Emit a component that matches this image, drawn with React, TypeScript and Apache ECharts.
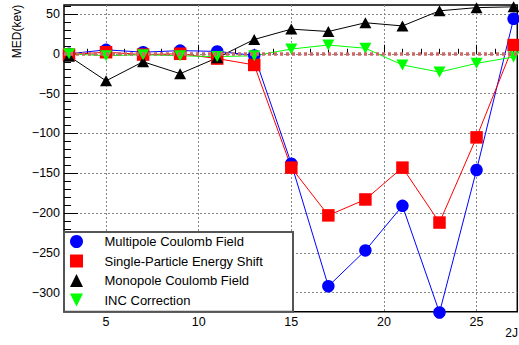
import { useEffect, useRef } from "react";
import * as echarts from "echarts";

const xValues = [3, 5, 7, 9, 11, 13, 15, 17, 19, 21, 23, 25, 27];
const multipole = [0, 5, 2, 4, 3, -2, -138, -292, -247, -191, -325, -146, 44];
const singleParticle = [-1, 2, -1, 0, -6, -14, -143, -203, -183, -143, -212, -105, 11];
const monopole = [-3, -34, -10, -25, -5, 18, 31, 28, 39, 35, 54, 58, 59];
const incCorrection = [0, -2.5, -1.2, -2.5, -3.5, -2.5, 6, 11, 7, -14, -23, -12, -4];

const xMajorTicks = [5, 10, 15, 20, 25];
const xMinorTicks = [3, 4, 5, 6, 7, 8, 9, 10, 11, 12, 13, 14, 15, 16, 17, 18, 19, 20, 21, 22, 23, 24, 25, 26, 27];
const yMajorTicks = [-300, -250, -200, -150, -100, -50, 0, 50];
const yMinorTicks = [-320, -310, -300, -290, -280, -270, -260, -250, -240, -230, -220, -210, -200, -190, -180, -170, -160, -150, -140, -130, -120, -110, -100, -90, -80, -70, -60, -50, -40, -30, -20, -10, 0, 10, 20, 30, 40, 50, 60];

const seriesNames = [
  "Multipole Coulomb Field",
  "Single-Particle Energy Shift",
  "Monopole Coulomb Field",
  "INC Correction",
];
const xTitle = "2J";
const yTitle = "MED(kev)";

const X_MIN = 2.73;
const X_MAX = 27.2;
const Y_MIN = -324;
const Y_MAX = 61.3;

const FONT = "'Liberation Sans', Arial, Helvetica, sans-serif";

const fmt = (v: number) => String(v).replace("-", "\u2212");

export default function App() {
  const ref = useRef<HTMLDivElement>(null);
  useEffect(() => {
    if (!ref.current) return;
    const chart = echarts.init(ref.current, null, { renderer: "svg" });
    const gridRect = { left: 64, top: 5, width: 453.3, height: 306.7 };
    const pairs = (ys: number[]) => xValues.map((x, i) => [x, ys[i]]);
    const mkSeries = (name: string, ys: number[], color: string, symbol: string, size: any, extra: any = {}) => ({
      name,
      type: "line",
      xAxisIndex: 0,
      yAxisIndex: 0,
      data: pairs(ys),
      symbol,
      symbolSize: size,
      clip: false,
      itemStyle: { color },
      lineStyle: { color, width: 1 },
      emphasis: { disabled: true },
      ...extra,
    });
    chart.setOption({
      animation: false,
      backgroundColor: "#fff",
      textStyle: { fontFamily: FONT },
      grid: [
        { ...gridRect, show: true, borderColor: "#000", borderWidth: 1.5, backgroundColor: "transparent" },
        { ...gridRect, show: false },
      ],
      xAxis: [
        {
          type: "value",
          gridIndex: 0,
          min: X_MIN,
          max: X_MAX,
          axisLine: { show: false },
          axisTick: { show: true, inside: true, length: 9, customValues: xMajorTicks, lineStyle: { color: "#000", width: 1 } },
          axisLabel: { show: true, customValues: xMajorTicks, margin: 4, fontSize: 12.5, color: "#000", fontFamily: FONT, formatter: fmt },
          splitLine: { show: true, lineStyle: { color: "#888", width: 1, type: [2, 2] } },
        },
        {
          type: "value",
          gridIndex: 1,
          min: X_MIN,
          max: X_MAX,
          axisLine: { show: false },
          axisTick: { show: true, inside: true, length: 5, customValues: xMinorTicks, lineStyle: { color: "#000", width: 1 } },
          axisLabel: { show: false },
          splitLine: { show: false },
        },
      ],
      yAxis: [
        {
          type: "value",
          gridIndex: 0,
          min: Y_MIN,
          max: Y_MAX,
          axisLine: { show: false },
          axisTick: { show: true, inside: true, length: 14, customValues: yMajorTicks, lineStyle: { color: "#000", width: 1 } },
          axisLabel: { show: true, customValues: yMajorTicks, margin: 4, fontSize: 12.5, color: "#000", fontFamily: FONT, formatter: fmt },
          splitLine: { show: true, lineStyle: { color: "#888", width: 1, type: [2, 2] } },
        },
        {
          type: "value",
          gridIndex: 1,
          min: Y_MIN,
          max: Y_MAX,
          axisLine: { show: false },
          axisTick: { show: true, inside: true, length: 7, customValues: yMinorTicks, lineStyle: { color: "#000", width: 1 } },
          axisLabel: { show: false },
          splitLine: { show: false },
        },
      ],
      legend: {
        orient: "vertical",
        left: 70,
        top: 235,
        itemWidth: 46,
        itemHeight: 13,
        itemGap: 6.5,
        padding: 0,
        selectedMode: false,
        z: 60,
        textStyle: { fontSize: 13, color: "#000", fontFamily: FONT },
        data: [
          { name: seriesNames[0], icon: "circle" },
          { name: seriesNames[1], icon: "path://M0,0H1V1H0Z" },
          { name: seriesNames[2], icon: "path://M0.5,0L1,1H0Z" },
          { name: seriesNames[3], icon: "path://M0,0H1L0.5,1Z" },
        ],
      },
      graphic: [
        {
          type: "rect",
          z: 50,
          shape: { x: 64, y: 232, width: 229, height: 79.7 },
          style: { fill: "#fff", stroke: "#555", lineWidth: 2 },
        },
        {
          type: "text",
          x: 17,
          y: 31.5,
          rotation: Math.PI / 2,
          style: { text: yTitle, font: `12px ${FONT}`, fill: "#000", align: "center", verticalAlign: "middle" },
        },
        {
          type: "text",
          x: 518,
          y: 333,
          style: { text: xTitle, font: `12px ${FONT}`, fill: "#000", align: "right", verticalAlign: "middle" },
        },
      ],
      series: [
        mkSeries(seriesNames[0], multipole, "#0000ff", "circle", 12.5, {
          markLine: {
            silent: true,
            symbol: "none",
            label: { show: false },
            data: [{ yAxis: 0 }],
            lineStyle: { color: "#d06666", width: 3.5, type: [3, 3] },
          },
        }),
        mkSeries(seriesNames[1], singleParticle, "#ff0000", "rect", 12.5),
        mkSeries(seriesNames[2], monopole, "#000000", "triangle", [12, 11]),
        mkSeries(seriesNames[3], incCorrection, "#00ff00", "path://M0,0H1L0.5,1Z", [12, 11]),
      ],
    });
    return () => chart.dispose();
  }, []);
  return (
    <div
      ref={ref}
      style={{ position: "fixed", left: 0, top: 0, width: 519, height: 345, background: "#fff" }}
    />
  );
}
